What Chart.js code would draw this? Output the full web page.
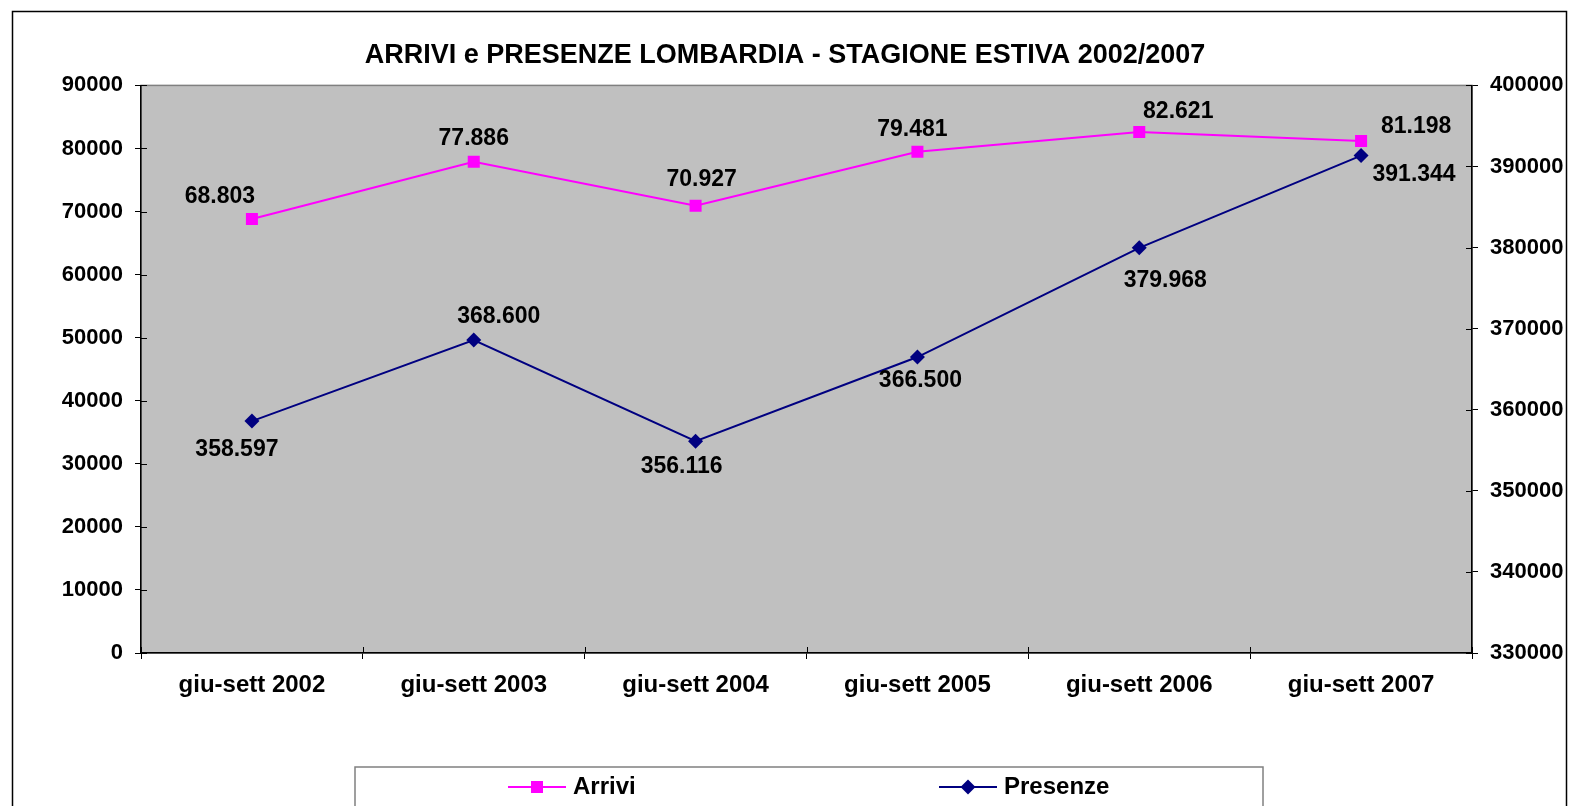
<!DOCTYPE html>
<html>
<head>
<meta charset="utf-8">
<script src="https://cdn.jsdelivr.net/npm/chart.js@4.4.0/dist/chart.umd.min.js"></script>
<style>
  body { margin: 0; background: #fff; }
  #wrap { width: 1570px; height: 806px; }
</style>
</head>
<body>
<div id="wrap"><canvas id="chart" width="1570" height="806"></canvas></div>
<script>
// Dati stagione estiva
const categories = ["giu-sett 2002", "giu-sett 2003", "giu-sett 2004", "giu-sett 2005", "giu-sett 2006", "giu-sett 2007"];
const arrivi = [68803, 77886, 70927, 79481, 82621, 81198];
const presenze = [358597, 368600, 356116, 366500, 379968, 391344];
const leftTicks = [0, 10000, 20000, 30000, 40000, 50000, 60000, 70000, 80000, 90000];
const rightTicks = [330000, 340000, 350000, 360000, 370000, 380000, 390000, 400000];

const FONT = "'Liberation Sans', Arial, sans-serif";

// posizione delle etichette dati rispetto al punto (dx, dy)
const labelOffsets = [
  [[-32, -22], [0, -23], [6, -26], [-5, -22], [39, -20], [55, -14]],
  [[-15, 29], [25, -23], [-14, 25], [3, 24], [26, 33], [53, 19]]
];

function formatIt(v) {
  return v.toLocaleString("it-IT");
}

//====================================
// Plugin: cornice, sfondo grigio, etichette, legenda
//====================================
const excelFrame = {
  id: "excelFrame",
  beforeDraw(chart) {
    const ctx = chart.ctx;
    const a = chart.chartArea;
    ctx.save();
    ctx.fillStyle = "#fff";
    ctx.fillRect(0, 0, chart.width, chart.height);
    // cornice esterna
    ctx.strokeStyle = "#000";
    ctx.lineWidth = 1.5;
    ctx.strokeRect(12.5, 11.5, 1554, 810);
    // area del grafico
    ctx.fillStyle = "#c0c0c0";
    ctx.fillRect(a.left, a.top, a.right - a.left, a.bottom - a.top);
    ctx.strokeStyle = "#808080";
    ctx.lineWidth = 1.5;
    ctx.strokeRect(a.left, a.top, a.right - a.left, a.bottom - a.top);
    ctx.restore();
  },
  afterDatasetsDraw(chart) {
    const ctx = chart.ctx;
    ctx.save();
    ctx.font = "bold 23px " + FONT;
    ctx.fillStyle = "#000";
    ctx.textAlign = "center";
    ctx.textBaseline = "middle";
    chart.data.datasets.forEach((ds, di) => {
      const meta = chart.getDatasetMeta(di);
      meta.data.forEach((pt, i) => {
        const off = labelOffsets[di][i];
        ctx.fillText(formatIt(ds.data[i]), pt.x + off[0], pt.y + off[1]);
      });
    });
    ctx.restore();
  },
  afterDraw(chart) {
    const ctx = chart.ctx;
    const a = chart.chartArea;
    const sx = chart.scales.x;
    const sy = chart.scales.y;
    const sy1 = chart.scales.y1;
    ctx.save();
    ctx.strokeStyle = "#000";
    ctx.lineWidth = 1;
    ctx.beginPath();
    // tacche interne (tipo "incrociate")
    leftTicks.forEach(v => {
      const y = Math.round(sy.getPixelForValue(v)) + 0.5;
      ctx.moveTo(a.left, y); ctx.lineTo(a.left + 6, y);
    });
    rightTicks.forEach(v => {
      const y = Math.round(sy1.getPixelForValue(v)) + 0.5;
      ctx.moveTo(a.right - 6, y); ctx.lineTo(a.right, y);
    });
    for (let i = 0; i <= categories.length; i++) {
      const x = Math.round(sx.getPixelForValue(i - 0.5)) + 0.5;
      ctx.moveTo(x, a.bottom - 6); ctx.lineTo(x, a.bottom);
    }
    ctx.stroke();

    // legenda
    ctx.strokeStyle = "#808080";
    ctx.lineWidth = 1.5;
    ctx.strokeRect(355, 767, 908, 60);
    const items = [[508, 0], [939, 1]];
    const ly = 787;
    items.forEach(([x0, di]) => {
      const ds = chart.data.datasets[di];
      ctx.strokeStyle = ds.borderColor;
      ctx.lineWidth = 2;
      ctx.beginPath();
      ctx.moveTo(x0, ly); ctx.lineTo(x0 + 58, ly);
      ctx.stroke();
      ctx.fillStyle = ds.pointBackgroundColor;
      Chart.helpers.drawPoint(ctx, {
        pointStyle: ds.pointStyle, radius: ds.pointRadius, rotation: 0, borderWidth: 0
      }, x0 + 29, ly);
      ctx.fillStyle = "#000";
      ctx.font = "bold 24px " + FONT;
      ctx.textAlign = "left";
      ctx.textBaseline = "middle";
      ctx.fillText(ds.label, x0 + 65, ly);
    });
    ctx.restore();
  }
};

const tickFont = { family: FONT, size: 22, weight: "bold" };

new Chart(document.getElementById("chart"), {
  type: "line",
  data: {
    labels: categories,
    datasets: [
      {
        label: "Arrivi",
        data: arrivi,
        yAxisID: "y",
        borderColor: "#ff00ff",
        backgroundColor: "#ff00ff",
        pointBackgroundColor: "#ff00ff",
        pointBorderWidth: 0,
        pointStyle: "rect",
        pointRadius: 8.5,
        borderWidth: 2,
        tension: 0
      },
      {
        label: "Presenze",
        data: presenze,
        yAxisID: "y1",
        borderColor: "#000080",
        backgroundColor: "#000080",
        pointBackgroundColor: "#000080",
        pointBorderWidth: 0,
        pointStyle: "rectRot",
        pointRadius: 7.5,
        borderWidth: 2,
        tension: 0
      }
    ]
  },
  options: {
    responsive: false,
    animation: false,
    layout: { padding: { top: 12, left: 0, right: 0, bottom: 0 } },
    plugins: {
      legend: { display: false },
      tooltip: { enabled: false },
      title: {
        display: true,
        text: "ARRIVI e PRESENZE LOMBARDIA - STAGIONE ESTIVA 2002/2007",
        color: "#000",
        font: { family: FONT, size: 27, weight: "bold" },
        padding: { top: 27, bottom: 14 }
      }
    },
    scales: {
      x: {
        offset: true,
        grid: { offset: true, drawOnChartArea: false, drawTicks: true, tickLength: 6, color: "#000" },
        border: { color: "#000", width: 1.5 },
        ticks: { color: "#000", font: { family: FONT, size: 24, weight: "bold" }, padding: 12, maxRotation: 0, autoSkip: false },
        afterFit(scale) { scale.height = 153; }
      },
      y: {
        position: "left",
        min: 0,
        max: 90000,
        afterBuildTicks(scale) { scale.ticks = leftTicks.map(v => ({ value: v })); },
        grid: { drawOnChartArea: false, tickLength: 6, color: "#000" },
        border: { color: "#000", width: 1.5 },
        ticks: { color: "#000", font: tickFont, padding: 12, callback: v => String(v) },
        afterFit(scale) { scale.width = 141; }
      },
      y1: {
        position: "right",
        min: 330000,
        max: 400000,
        afterBuildTicks(scale) { scale.ticks = rightTicks.map(v => ({ value: v })); },
        grid: { drawOnChartArea: false, tickLength: 6, color: "#000" },
        border: { color: "#000", width: 1.5 },
        ticks: { color: "#000", font: tickFont, padding: 12, callback: v => String(v) },
        afterFit(scale) { scale.width = 98; }
      }
    }
  },
  plugins: [excelFrame]
});
</script>
</body>
</html>
